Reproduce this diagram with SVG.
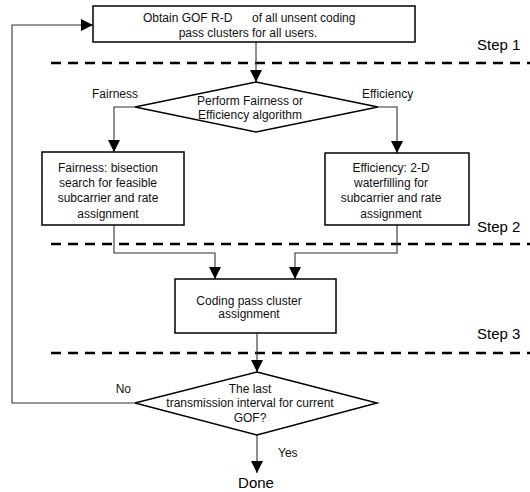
<svg xmlns="http://www.w3.org/2000/svg" width="530" height="492" viewBox="0 0 530 492">
<style>
.box{fill:#fff;stroke:#000;stroke-width:1.5}
.t{font-family:"Liberation Sans",Arial,sans-serif;font-size:12px;fill:#111;text-anchor:middle}
.l{font-family:"Liberation Sans",Arial,sans-serif;font-size:12px;fill:#111}
.step{font-family:"Liberation Sans",Arial,sans-serif;font-size:15px;fill:#000}
.c{fill:none;stroke:#333;stroke-width:1.1}
.ca{fill:none;stroke:#333;stroke-width:1.1;marker-end:url(#ah)}
.dash{fill:none;stroke:#000;stroke-width:2.5;stroke-dasharray:10 7}
</style>
<defs>
<marker id="ah" viewBox="0 0 12 12" refX="12" refY="6" markerWidth="12" markerHeight="12" markerUnits="userSpaceOnUse" orient="auto">
<path d="M0,0 L12,6 L0,12 z" fill="#000"/>
</marker>
</defs>
<rect width="530" height="492" fill="#fff"/>
<g id="separators">
<line class="dash" x1="51" y1="63" x2="530" y2="63"/>
<line class="dash" x1="51" y1="244" x2="530" y2="244"/>
<line class="dash" x1="51" y1="353" x2="530" y2="353"/>
<text class="step" x="477" y="50">Step 1</text>
<text class="step" x="477" y="232">Step 2</text>
<text class="step" x="477" y="339">Step 3</text>
</g>
<g id="connectors">
<path class="ca" d="M256,42 V82"/>
<path class="ca" d="M135,107 H114 V152"/>
<path class="ca" d="M378,107 H397 V153"/>
<path class="ca" d="M114,225 V253 H215 V279"/>
<path class="ca" d="M397,225 V253 H295 V279"/>
<path class="ca" d="M257,333 V372"/>
<path class="ca" d="M257,435 V473"/>
<path class="ca" d="M135,403 H12 V25 H93"/>
<text class="l" x="92" y="98">Fairness</text>
<text class="l" x="362" y="98">Efficiency</text>
<text class="l" x="131" y="393" text-anchor="end">No</text>
<text class="l" x="278" y="457">Yes</text>
</g>
<g id="obtain">
<rect class="box" x="93" y="6" width="322" height="36"/>
<text class="l" y="22"><tspan x="143">Obtain GOF R-D</tspan><tspan x="252">of all unsent coding</tspan></text>
<text class="t" x="248" y="37">pass clusters for all users.</text>
</g>
<g id="decision1">
<polygon class="box" points="256,82 378,107 256,132 135,107"/>
<text class="t" x="250" y="105">Perform Fairness or</text>
<text class="t" x="250" y="119">Efficiency algorithm</text>
</g>
<g id="fairness">
<rect class="box" x="42" y="152" width="142" height="73"/>
<text class="t" x="108" y="172">Fairness: bisection</text>
<text class="t" x="108" y="187">search for feasible</text>
<text class="t" x="108" y="202">subcarrier and rate</text>
<text class="t" x="108" y="218">assignment</text>
</g>
<g id="efficiency">
<rect class="box" x="325" y="153" width="144" height="72"/>
<text class="t" x="391" y="172">Efficiency: 2-D</text>
<text class="t" x="391" y="187">waterfilling for</text>
<text class="t" x="391" y="202">subcarrier and rate</text>
<text class="t" x="391" y="218">assignment</text>
</g>
<g id="coding">
<rect class="box" x="175" y="279" width="161" height="54"/>
<text class="t" x="249" y="305">Coding pass cluster</text>
<text class="t" x="249" y="318">assignment</text>
</g>
<g id="decision2">
<polygon class="box" points="257,372 377,403 257,435 135,403"/>
<text class="t" x="250" y="393">The last</text>
<text class="t" x="250" y="407">transmission interval for current</text>
<text class="t" x="250" y="422">GOF?</text>
</g>
<g id="done">
<text class="step" x="256" y="488" text-anchor="middle">Done</text>
</g>
</svg>
